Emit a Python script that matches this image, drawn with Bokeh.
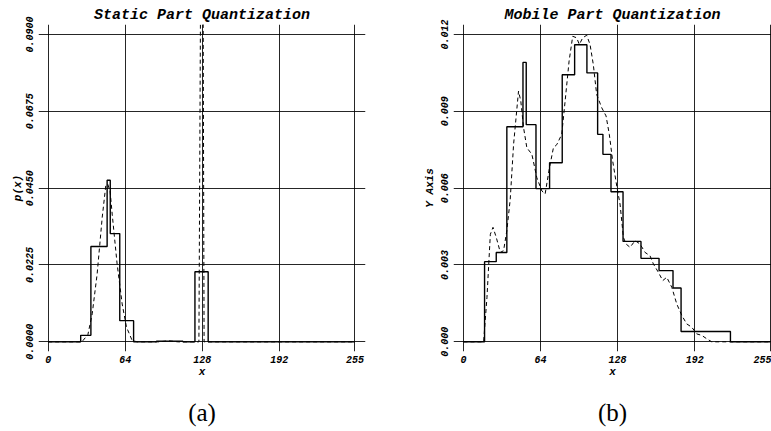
from bokeh.plotting import figure
from bokeh.layouts import row
from bokeh.models import Range1d, FixedTicker, LinearAxis
from bokeh.embed import file_html
from bokeh.resources import INLINE

# ---------------- data ----------------
x_ticks = [0, 64, 128, 192, 255]

# (a) static part: quantized histogram (bin edges / bin heights) and density curve
a_edges = [0, 27, 35.5, 49, 51.6, 59.5, 71, 90, 112, 122, 133, 255]
a_vals = [0, 0.0019, 0.0279, 0.0473, 0.0317, 0.0062, 0, 0.0002, 0, 0.0205, 0]
a_curve_x = [0, 28, 33, 36.6, 40.7, 44.9, 47.9, 49.5, 51.5, 53.2, 57.3, 61.5, 65.1, 69.8,
             74, 92, 100, 108, 124, 125.3, 128, 129.6, 131, 255]
a_curve_y = [0, 0, 0.0021, 0.0082, 0.0199, 0.0364, 0.0458, 0.0462, 0.044, 0.0374, 0.0228,
             0.0111, 0.0043, 0.0004, 0, 0, 0.0003, 0, 0, 0, 0.2, 0, 0, 0]
a_yticks = [0.0, 0.0225, 0.045, 0.0675, 0.09]
a_ytick_labels = ["0.0000", "0.0225", "0.0450", "0.0675", "0.0900"]

# (b) mobile part
b_edges = [0, 17.5, 27.2, 36.0, 49.4, 52.1, 60.2, 71.5, 82.0, 92.3, 102.5, 111.4, 115.8,
           122.5, 132.5, 147.4, 162.4, 174.0, 180.7, 221.7, 255]
b_vals = [0, 0.00313, 0.00349, 0.0084, 0.01091, 0.00848, 0.00598, 0.00699, 0.01043, 0.0116,
          0.0105, 0.0081, 0.00732, 0.00586, 0.00392, 0.00326, 0.00278, 0.0021, 0.0004, 0]
b_curve_x = [0, 16.7, 19.5, 22.3, 24.5, 27.2, 30.6, 33.3, 36.0, 38.8, 41.6, 45.7, 47.6, 49.9,
             52.6, 56.8, 60.9, 65.1, 67.8, 71.4, 74.7, 77.5, 81.6, 84.4, 87.7, 90.7, 94.0,
             96.2, 99.0, 102.3, 105.1, 107.8, 110.6, 114.8, 118.4, 121.1, 123.9, 127.5,
             130.0, 132.8, 135.0, 138.3, 142.5, 146.6, 150.8, 154.9, 157.7, 161.9, 165.5,
             168.8, 173.0, 177.1, 181.3, 185.4, 189.6, 193.7, 197.9, 202.0, 206.2, 255]
b_curve_y = [0, 0, 0.00174, 0.0042, 0.00447, 0.00408, 0.00349, 0.00356, 0.00434, 0.00556,
             0.00771, 0.00979, 0.0094, 0.00836, 0.00758, 0.00732, 0.00641, 0.00589, 0.00577,
             0.0068, 0.00758, 0.0077, 0.0081, 0.0094, 0.01096, 0.01193, 0.01187, 0.01161,
             0.01187, 0.01197, 0.01161, 0.01083, 0.00966, 0.00914, 0.00882, 0.0081, 0.00706,
             0.00602, 0.00538, 0.00408, 0.00382, 0.00369, 0.00395, 0.00382, 0.00349, 0.00336,
             0.00304, 0.00271, 0.00239, 0.00252, 0.00213, 0.00148, 0.00103, 0.0007, 0.00057,
             0.00031, 0.00025, 0.00012, 0, 0]
b_yticks = [0.0, 0.003, 0.006, 0.009, 0.012]
b_ytick_labels = ["0.000", "0.003", "0.006", "0.009", "0.012"]

MONO = "Liberation Mono"


def make_panel(title, ylabel, edges, vals, cx, cy, yticks, ylabels, xr, yr,
               width, left, right, caption, ylab_standoff):
    p = figure(width=width, height=431, output_backend="svg", toolbar_location=None,
               x_range=Range1d(*xr), y_range=Range1d(*yr),
               min_border_left=left, min_border_right=right, min_border_top=24,
               min_border_bottom=80, title=title)
    p.outline_line_color = None
    p.background_fill_color = "white"
    p.border_fill_color = "white"
    p.title.align = "center"
    p.title.text_font = MONO
    p.title.text_font_style = "bold italic"
    p.title.text_font_size = "15px"
    p.title.text_color = "black"
    p.title.standoff = 2

    p.xaxis.ticker = FixedTicker(ticks=x_ticks)
    p.yaxis.ticker = FixedTicker(ticks=yticks)
    p.yaxis.major_label_overrides = {t: l for t, l in zip(yticks, ylabels)}
    p.yaxis.major_label_orientation = "vertical"
    for ax in (p.xaxis[0], p.yaxis[0]):
        ax.axis_line_color = None
        ax.major_tick_line_color = None
        ax.minor_tick_line_color = None
        ax.major_tick_out = 0
        ax.major_tick_in = 0
        ax.major_label_text_font = MONO
        ax.major_label_text_font_style = "bold italic"
        ax.major_label_text_font_size = "10px"
        ax.major_label_text_color = "black"
        ax.axis_label_text_font = MONO
        ax.axis_label_text_font_style = "bold italic"
        ax.axis_label_text_font_size = "11px"
        ax.axis_label_text_color = "black"
    p.xaxis.axis_label = "x"
    p.xaxis.major_label_standoff = 4
    p.xaxis.axis_label_standoff = 0
    p.yaxis.axis_label = ylabel
    p.yaxis.major_label_standoff = 5
    p.yaxis.axis_label_standoff = ylab_standoff

    p.xgrid.ticker = FixedTicker(ticks=x_ticks)
    p.ygrid.ticker = FixedTicker(ticks=yticks)
    for g in (p.xgrid[0], p.ygrid[0]):
        g.grid_line_color = "black"
        g.grid_line_width = 1
        g.grid_line_alpha = 0.85

    p.step(x=edges, y=vals + [vals[-1]], mode="after", line_color="black", line_width=1.4)
    p.line(x=cx, y=cy, line_color="black", line_width=1, line_dash="4 3")

    # caption below the x axis: an extra axis carrying only its label
    cap = LinearAxis(ticker=FixedTicker(ticks=[]), axis_label=caption,
                     axis_line_color=None, major_tick_line_color=None,
                     minor_tick_line_color=None, major_tick_out=0, major_tick_in=0,
                     major_label_standoff=0, axis_label_standoff=18,
                     axis_label_text_font="Liberation Serif",
                     axis_label_text_font_style="normal",
                     axis_label_text_font_size="25px", axis_label_text_color="black")
    p.add_layout(cap, "below")
    return p


pa = make_panel("Static Part Quantization", "p(x)", a_edges, a_vals, a_curve_x, a_curve_y,
                a_yticks, a_ytick_labels, (-8.06, 263.8), (-0.00283, 0.09292),
                385, 38, 20, "(a)", 0)
pb = make_panel("Mobile Part Quantization", "Y Axis", b_edges, b_vals, b_curve_x, b_curve_y,
                b_yticks, b_ytick_labels, (-8.3, 255.8), (-0.000378, 0.01239),
                386, 68, 0, "(b)", 3)

layout = row(pa, pb)
open("out.html", "w").write(file_html(layout, INLINE))
